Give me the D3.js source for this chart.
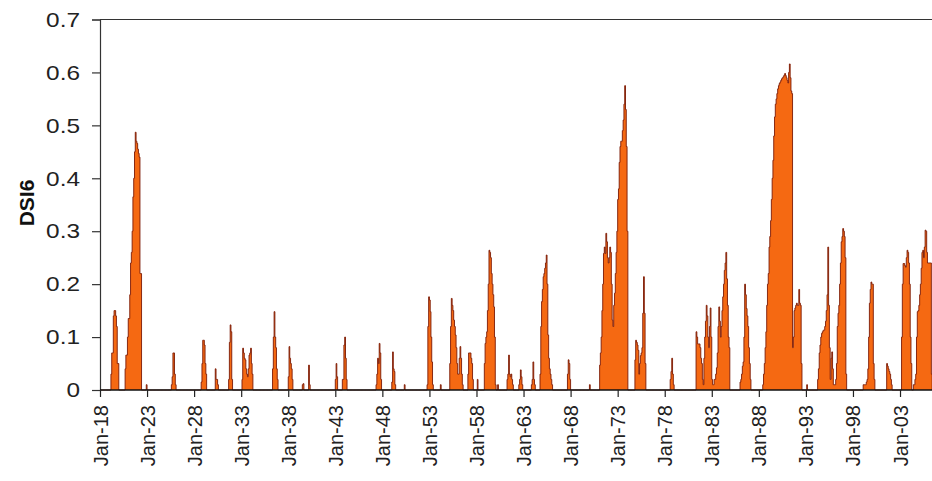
<!DOCTYPE html>
<html><head><meta charset="utf-8">
<script src="https://cdn.jsdelivr.net/npm/d3@7"></script>
<style>
html,body{margin:0;padding:0;background:#fff;}
svg{display:block;}
</style>
</head><body>
<svg id="chart" width="932" height="481"></svg>
<script>
// ---- DATA (monthly DSI6 values; months not listed are 0) ----
const seriesName = "DSI6";
const startYear = 1918, endYear = 2007;
const tickYears = [1918,1923,1928,1933,1938,1943,1948,1953,1958,1963,1968,1973,1978,1983,1988,1993,1998,2003];
const yTicks = [0,0.1,0.2,0.3,0.4,0.5,0.6,0.7];
// each episode: [year, month, monthly values...]
const ep1919 = [1919,3, 0.03,0.07,0.07,0.14,0.15,0.15,0.14,0.12,0.05,0.05];
const ep1920 = [1920,9, 0.04,0.066,0.066,0.1,0.135,0.135,0.18,0.24,0.26,0.30,0.365,0.40,0.45,0.487,0.47,0.466,0.455,0.447,0.44,0.22,0.22];
const ep1922 = [1922,12, 0.01];
const ep1925 = [1925,8, 0.01,0.025,0.07,0.07,0.03,0.01];
const ep1928 = [1928,10, 0.015,0.05,0.094,0.094,0.085,0.05,0.03];
const ep1930 = [1930,4, 0.04,0.02,0.02,0.01];
const ep1931 = [1931,9, 0.02,0.09,0.123,0.11,0.02];
const ep1933 = [1933,2, 0.02,0.079,0.07,0.06,0.057,0.04,0.03,0.025,0.04,0.066,0.07,0.079,0.05,0.03];
const ep1936 = [1936,5, 0.04,0.1,0.148,0.1,0.08,0.04,0.02];
const ep1938 = [1938,1, 0.025,0.082,0.06,0.05,0.04,0.02];
const ep1939 = [1939,7, 0.01,0.012];
const ep1940 = [1940,3, 0.047,0.01];
const ep1943a = [1943,1, 0.02,0.05,0.025];
const ep1943b = [1943,10, 0.02,0.02,0.085,0.1,0.06,0.02];
const ep1947 = [1947,5, 0.01,0.03,0.06,0.05,0.088,0.07,0.02];
const ep1949 = [1949,1, 0.015,0.072,0.04,0.035,0.01];
const ep1950 = [1950,5, 0.01];
const ep1952 = [1952,10, 0.01,0.12,0.176,0.17,0.148,0.1,0.053,0.01];
const ep1954 = [1954,3, 0.01];
const ep1955 = [1955,3, 0.05,0.12,0.173,0.16,0.15,0.132,0.12,0.104,0.08,0.05,0.03,0.03,0.06,0.082,0.06,0.03,0.01];
const ep1957 = [1957,2, 0.03,0.07,0.07,0.07,0.06,0.05,0.02];
const ep1958a = [1958,2, 0.02];
const ep1958b = [1958,11, 0.05,0.088,0.1,0.11,0.15,0.2,0.264,0.26,0.25,0.22,0.2,0.18,0.157,0.1,0.01];
const ep1960 = [1960,4, 0.01];
const ep1961 = [1961,4, 0.02,0.03,0.066,0.03,0.025,0.03,0.02,0.01];
const ep1962 = [1962,7, 0.01,0.02,0.038,0.025,0.01];
const ep1963 = [1963,11, 0.01,0.02,0.053,0.02,0.01];
const ep1964 = [1964,10, 0.03,0.12,0.167,0.19,0.214,0.22,0.23,0.24,0.255,0.2,0.104,0.06,0.04,0.03,0.02,0.01];
const ep1967 = [1967,9, 0.03,0.057,0.05,0.02];
const ep1970 = [1970,1, 0.01];
const ep1971 = [1971,2, 0.047,0.07,0.1,0.15,0.2,0.258,0.27,0.258,0.296,0.28,0.25,0.24,0.25,0.27,0.26,0.2,0.132,0.12,0.16,0.183,0.22,0.26,0.3,0.36,0.38,0.43,0.46,0.47,0.47,0.49,0.51,0.54,0.575,0.53,0.46,0.3];
const ep1974 = [1974,11, 0.057,0.094,0.09,0.085,0.075,0.03,0.05,0.065,0.07,0.08,0.145,0.214,0.145,0.05];
const ep1978 = [1978,8, 0.02,0.035,0.06,0.03,0.01];
const ep1981 = [1981,5, 0.11,0.1,0.087,0.087,0.087,0.08,0.06,0.05,0.02,0.01,0.06,0.1,0.13,0.16,0.14,0.1,0.08,0.12,0.155,0.1,0.02,0.01,0.01,0.02,0.02,0.03,0.042,0.07,0.12,0.157,0.13,0.1,0.12,0.15,0.176,0.2,0.226,0.24,0.26,0.21,0.16,0.1,0.08];
const ep1986 = [1986,1, 0.015,0.02,0.03,0.045,0.053,0.1,0.2,0.18,0.154,0.14,0.12,0.08,0.05,0.02];
const ep1988 = [1988,6, 0.01,0.03,0.05,0.08,0.11,0.16,0.2,0.22,0.27,0.29,0.32,0.36,0.4,0.434,0.48,0.516,0.54,0.55,0.56,0.569,0.575,0.579,0.582,0.585,0.588,0.59,0.592,0.595,0.598,0.594,0.59,0.585,0.58,0.6,0.616,0.59,0.565,0.56,0.08,0.1,0.15,0.155,0.16,0.164,0.16,0.16,0.19,0.164,0.16,0.05];
const ep1993 = [1993,2, 0.01];
const ep1994 = [1994,4, 0.02,0.04,0.07,0.085,0.1,0.107,0.11,0.113,0.113,0.12,0.13,0.15,0.18,0.27,0.16,0.08,0.02,0.06,0.072,0.04,0.01,0.01,0.01,0.02,0.05,0.12,0.145,0.16,0.2,0.24,0.28,0.29,0.305,0.3,0.29,0.25,0.03];
const ep1999 = [1999,2, 0.01,0.01,0.01,0.01,0.015,0.02,0.04,0.1,0.164,0.19,0.204,0.2,0.2,0.05,0.02];
const ep2001 = [2001,8, 0.05,0.045,0.04,0.035,0.03,0.02,0.01];
const ep2003 = [2003,3, 0.1,0.2,0.239,0.239,0.235,0.232,0.25,0.264,0.26,0.24,0.2,0.1,0.05,0,0,0.01,0.01,0.02,0.03,0.1,0.148,0.15,0.16,0.18,0.2,0.23,0.26,0.264,0.25,0.27,0.302,0.3,0.26,0.24,0.24,0.24,0.24,0.24,0.03];

const episodes = [ep1919,ep1920,ep1922,ep1925,ep1928,ep1930,ep1931,ep1933,ep1936,ep1938,ep1939,ep1940,
  ep1943a,ep1943b,ep1947,ep1949,ep1950,ep1952,ep1954,ep1955,ep1957,ep1958a,ep1958b,ep1960,ep1961,ep1962,
  ep1963,ep1964,ep1967,ep1970,ep1971,ep1974,ep1978,ep1981,ep1986,ep1988,ep1993,ep1994,ep1999,ep2001,ep2003];

// build monthly table
const nMonths = (endYear - startYear) * 12;
const values = new Array(nMonths).fill(0);
episodes.forEach(e => {
  const idx0 = (e[0] - startYear) * 12 + (e[1] - 1);
  e.slice(2).forEach((v, i) => { if (idx0 + i < nMonths) values[idx0 + i] = v; });
});
const data = values.map((v, i) => ({date: new Date(startYear + Math.floor(i / 12), i % 12, 1), v}));

// ---- DRAW ----
const svg = d3.select("#chart");
const x0 = 100, xRight = 100 + 89 * 9.412, yTop = 19.5, yBase = 390;
const x = d3.scaleTime().domain([new Date(startYear,0,1), new Date(endYear,0,1)]).range([x0, xRight]);
const y = d3.scaleLinear().domain([0, 0.7]).range([yBase, yTop]);

const area = d3.area().curve(d3.curveStepAfter).x(d => x(d.date)).y0(yBase).y1(d => y(d.v));
const line = d3.line().curve(d3.curveStepAfter).x(d => x(d.date)).y(d => y(d.v));

svg.append("path").datum(data).attr("d", area).attr("fill", "#f56912");
svg.append("path").datum(data).attr("d", line).attr("fill", "none")
  .attr("stroke", "#7a1a06").attr("stroke-width", 0.9).attr("stroke-linejoin", "miter");

// top border
svg.append("line").attr("x1", x0).attr("x2", 932).attr("y1", yTop).attr("y2", yTop)
  .attr("stroke", "#333").attr("stroke-width", 1.2);

// y axis
const yAxis = svg.append("g").attr("transform", `translate(${x0},0)`)
  .call(d3.axisLeft(y).tickValues(yTicks).tickSize(8).tickPadding(0).tickFormat(d3.format("")));
yAxis.select(".domain").attr("stroke", "#333").attr("stroke-width", 1.2);
yAxis.selectAll(".tick line").attr("stroke", "#333").attr("stroke-width", 1.2);
yAxis.selectAll(".tick text").each(function() {
  const t = d3.select(this);
  t.attr("x", null).attr("dy", null)
   .attr("transform", `translate(-20,0) scale(1.22,1)`)
   .attr("text-anchor", "end").attr("dominant-baseline", "central")
   .attr("font-family", "'Liberation Sans', Arial, sans-serif").attr("font-size", 20).attr("fill", "#222");
});

// x axis
const xAxis = svg.append("g").attr("transform", `translate(0,${yBase})`)
  .call(d3.axisBottom(x).tickValues(tickYears.map(yy => new Date(yy,0,1))).tickSize(7)
    .tickFormat(d3.timeFormat("%b-%y")));
xAxis.select(".domain").attr("stroke", "#111").attr("stroke-width", 1.6).attr("d", `M${x0},0H932`);
xAxis.selectAll(".tick line").attr("stroke", "#222").attr("stroke-width", 1.2);
xAxis.selectAll(".tick text")
  .attr("y", null).attr("dy", null)
  .attr("transform", "translate(0,15) rotate(-90)")
  .attr("text-anchor", "end").attr("dominant-baseline", "central")
  .attr("font-family", "'Liberation Sans', Arial, sans-serif").attr("font-size", 20).attr("fill", "#222");

// y label
svg.append("text").attr("transform", "translate(26,203) rotate(-90)")
  .attr("text-anchor", "middle").attr("dominant-baseline", "central")
  .attr("font-family", "'Liberation Sans', Arial, sans-serif").attr("font-weight", "bold")
  .attr("font-size", 21).attr("fill", "#111").text(seriesName);
</script>
</body></html>
